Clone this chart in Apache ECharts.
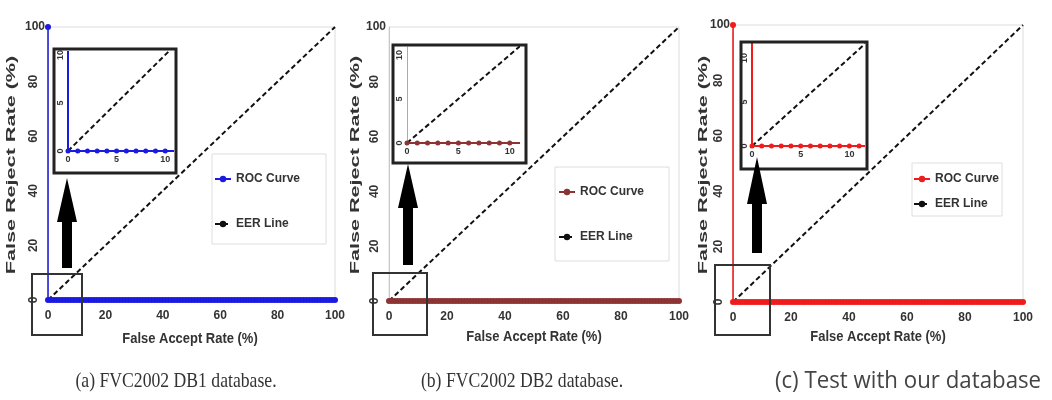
<!DOCTYPE html>
<html><head><meta charset="utf-8">
<script src="https://cdn.jsdelivr.net/npm/echarts@6/dist/echarts.min.js"></script>
<style>html,body{margin:0;padding:0;background:#fff}#c{width:1052px;height:400px}</style>
</head><body><div id="c"></div>
<script>
// ---- data ----
const rocFar = [0,1,2,3,4,5,6,7,8,9,10,11,12,13,14,15,16,17,18,19,20,21,22,23,24,25,26,27,28,29,30,31,32,33,34,35,36,37,38,39,40,41,42,43,44,45,46,47,48,49,50,51,52,53,54,55,56,57,58,59,60,61,62,63,64,65,66,67,68,69,70,71,72,73,74,75,76,77,78,79,80,81,82,83,84,85,86,87,88,89,90,91,92,93,94,95,96,97,98,99,100];
const rocFrrA = [0,0,0,0,0,0,0,0,0,0,0,0,0,0,0,0,0,0,0,0,0,0,0,0,0,0,0,0,0,0,0,0,0,0,0,0,0,0,0,0,0,0,0,0,0,0,0,0,0,0,0,0,0,0,0,0,0,0,0,0,0,0,0,0,0,0,0,0,0,0,0,0,0,0,0,0,0,0,0,0,0,0,0,0,0,0,0,0,0,0,0,0,0,0,0,0,0,0,0,0,0];
const rocFrrB = [0,0,0,0,0,0,0,0,0,0,0,0,0,0,0,0,0,0,0,0,0,0,0,0,0,0,0,0,0,0,0,0,0,0,0,0,0,0,0,0,0,0,0,0,0,0,0,0,0,0,0,0,0,0,0,0,0,0,0,0,0,0,0,0,0,0,0,0,0,0,0,0,0,0,0,0,0,0,0,0,0,0,0,0,0,0,0,0,0,0,0,0,0,0,0,0,0,0,0,0,0];
const rocFrrC = [0,0,0,0,0,0,0,0,0,0,0,0,0,0,0,0,0,0,0,0,0,0,0,0,0,0,0,0,0,0,0,0,0,0,0,0,0,0,0,0,0,0,0,0,0,0,0,0,0,0,0,0,0,0,0,0,0,0,0,0,0,0,0,0,0,0,0,0,0,0,0,0,0,0,0,0,0,0,0,0,0,0,0,0,0,0,0,0,0,0,0,0,0,0,0,0,0,0,0,0,0];
const rocStartA = [0, 100];   // ROC rises along FAR = 0
const rocStartC = [0, 100];
const eerFar = [0, 100];
const eerFrr = [0, 100];
const mainTicks = [0, 20, 40, 60, 80];
const topTick = [100];
const insetTicks = [0, 5, 10];
const captions = ['(a) FVC2002 DB1 database.', '(b) FVC2002 DB2 database.', '(c) Test with our database'];
const xName = 'False Accept Rate (%)';
const yName = 'False Reject Rate (%)';

// ---- build ----
function pts(far, frr, start) {
  const d = far.map((x, i) => [x, frr[i]]);
  return start ? [start].concat(d) : d;
}
const eerPts = pts(eerFar, eerFrr);

const panels = [
  { key:'a', color:'#1a1ae0', roc: pts(rocFar, rocFrrA, rocStartA),
    main:{left:48, top:27, width:287, height:273},
    inset:{left:68, top:52, width:105, height:99, xmax:10.8, ymax:10.3},
    frame:[54,49,176,173], box:[32,274,82,335], arrow:[67,178,222,268],
    legend:{left:212, top:154, padding:[19,26,14,2], gap:33},
    xn:[190,339], yn:[12,165], cap:[176,381], yAxisColor:'#ccc' },
  { key:'b', color:'#8c3434', roc: pts(rocFar, rocFrrB),
    main:{left:389, top:27, width:290, height:274},
    inset:{left:407, top:47, width:112, height:96, xmax:10.9, ymax:10.9},
    frame:[393,45,526,163], box:[373,273,427,335], arrow:[408,164,208,265],
    legend:{left:555, top:167, padding:[19,25,18,3], gap:33},
    xn:[534,337], yn:[356,165], cap:[522,381], yAxisColor:'#cfc4c4' },
  { key:'c', color:'#ee1c1c', roc: pts(rocFar, rocFrrC, rocStartC),
    main:{left:733, top:25, width:290, height:277},
    inset:{left:752, top:43, width:112, height:103, xmax:11.5, ymax:11.7},
    frame:[741,42,867,169], box:[715,265,770,335], arrow:[757,157,204,253],
    legend:{left:912, top:163, padding:[10,3,6,1], gap:13},
    xn:[878,337], yn:[704,165], cap:[908,381], yAxisColor:'#f3a0a0' }
];

const grid = [], xAxis = [], yAxis = [], series = [], legend = [], graphic = [];
const tickFont = { fontFamily:'Liberation Sans, Arial, sans-serif', fontWeight:'bold', color:'#333' };

panels.forEach((p, i) => {
  const gm = grid.length;
  grid.push({ left:p.main.left, top:p.main.top, width:p.main.width, height:p.main.height,
    show:true, borderColor:'#dcdcdc', borderWidth:1, backgroundColor:'transparent' });
  const gi = grid.length;
  grid.push({ left:p.inset.left, top:p.inset.top, width:p.inset.width, height:p.inset.height,
    show:false });

  const xm = xAxis.length;
  xAxis.push({ type:'value', gridIndex:gm, min:0, max:100, interval:20,
    axisLine:{show:false}, axisTick:{show:false}, splitLine:{show:false},
    axisLabel:Object.assign({ fontSize:12, margin:10 }, tickFont) });
  const xi = xAxis.length;
  xAxis.push({ type:'value', gridIndex:gi, min:0, max:p.inset.xmax,
    axisLine:{show:true, lineStyle:{color:'#999', width:1}}, axisTick:{show:false}, splitLine:{show:false},
    axisLabel:Object.assign({ fontSize:9, margin:4, customValues:insetTicks }, tickFont) });

  const ym = yAxis.length;
  yAxis.push({ type:'value', gridIndex:gm, position:'left', min:0, max:100,
    axisLine:{show:true, lineStyle:{color:p.yAxisColor, width:1}}, axisTick:{show:false}, splitLine:{show:false},
    axisLabel:Object.assign({ fontSize:12, margin:8, rotate:90, customValues:mainTicks }, tickFont) });
  yAxis.push({ type:'value', gridIndex:gm, position:'left', offset:0, min:0, max:100,
    axisLine:{show:false}, axisTick:{show:false}, splitLine:{show:false},
    axisLabel:Object.assign({ fontSize:12, margin:3, customValues:topTick }, tickFont) });
  const yi = yAxis.length;
  yAxis.push({ type:'value', gridIndex:gi, position:'left', min:0, max:p.inset.ymax,
    axisLine:{show:true, lineStyle:{color: p.key==='b' ? '#aaa' : p.color, width:1}}, axisTick:{show:false}, splitLine:{show:false},
    axisLabel:Object.assign({ fontSize:9, margin:3, rotate:90, customValues:insetTicks }, tickFont) });

  const rocName = 'ROC Curve|' + p.key, eerName = 'EER Line|' + p.key;
  series.push({ name:rocName, type:'line', xAxisIndex:xm, yAxisIndex:ym, data:p.roc,
    symbol:'circle', symbolSize:6, showAllSymbol:true, z:4,
    itemStyle:{color:p.color}, lineStyle:{color:p.color, width:1.5} });
  series.push({ name:eerName, type:'line', xAxisIndex:xm, yAxisIndex:ym, data:eerPts,
    symbol:'none', z:3, itemStyle:{color:'#111'}, lineStyle:{color:'#111', width:2, type:[5,3]} });
  series.push({ name:'inset-roc-' + p.key, type:'line', xAxisIndex:xi, yAxisIndex:yi, data:p.roc,
    symbol:'circle', symbolSize:5, showAllSymbol:true, clip:true, z:4,
    itemStyle:{color:p.color}, lineStyle:{color:p.color, width:2} });
  series.push({ name:'inset-eer-' + p.key, type:'line', xAxisIndex:xi, yAxisIndex:yi, data:eerPts,
    symbol:'none', clip:true, z:3, lineStyle:{color:'#111', width:2, type:[5,3]} });

  legend.push({ data:[rocName, eerName], orient:'vertical', left:p.legend.left, top:p.legend.top,
    padding:p.legend.padding, itemGap:p.legend.gap, itemWidth:16, itemHeight:8,
    borderColor:'#dedede', borderWidth:1, backgroundColor:'#fff', selectedMode:false,
    formatter: n => n.split('|')[0],
    textStyle:{ fontSize:12, fontWeight:'bold', color:'#333', fontFamily:'Liberation Sans, Arial, sans-serif' } });

  const f = p.frame;
  graphic.push({ type:'rect', z:50, shape:{x:f[0], y:f[1], width:f[2]-f[0], height:f[3]-f[1]},
    style:{fill:'none', stroke:'#222', lineWidth:3} });
  const b = p.box;
  graphic.push({ type:'rect', z:50, shape:{x:b[0], y:b[1], width:b[2]-b[0], height:b[3]-b[1]},
    style:{fill:'none', stroke:'#333', lineWidth:2} });
  const a = p.arrow, hw = 10, sw = 5;
  graphic.push({ type:'polygon', z:50, shape:{points:[[a[0],a[1]],[a[0]+hw,a[2]],[a[0]+sw,a[2]],[a[0]+sw,a[3]],
    [a[0]-sw,a[3]],[a[0]-sw,a[2]],[a[0]-hw,a[2]]]}, style:{fill:'#000'} });
  graphic.push({ type:'text', z:50, x:p.xn[0], y:p.xn[1], scaleX:1.08, scaleY:1.25,
    style:{text:xName, fontSize:12, fontWeight:'bold', fontFamily:'Liberation Sans, Arial, sans-serif',
      fill:'#333', align:'center', verticalAlign:'middle'} });
  graphic.push({ type:'text', z:50, x:p.yn[0], y:p.yn[1], rotation:Math.PI/2, scaleX:1.8,
    style:{text:yName, fontSize:12, fontWeight:'bold', fontFamily:'Liberation Sans, Arial, sans-serif',
      fill:'#333', align:'center', verticalAlign:'middle'} });
  graphic.push({ type:'text', z:50, x:p.cap[0], y:p.cap[1], scaleX: i < 2 ? 0.93 : 1.06, scaleY:1.12,
    style:{text:captions[i], fontSize: i < 2 ? 19 : 21,
      fontFamily: i < 2 ? 'Liberation Serif, Times New Roman, serif' : 'Open Sans, Noto Sans, sans-serif',
      fill: i < 2 ? '#333' : '#444', align:'center', verticalAlign:'middle'} });
});

const chart = echarts.init(document.getElementById('c'), null, { renderer:'canvas' });
chart.setOption({ animation:false, backgroundColor:'#fff', grid, xAxis, yAxis, series, legend, graphic });
</script></body></html>
